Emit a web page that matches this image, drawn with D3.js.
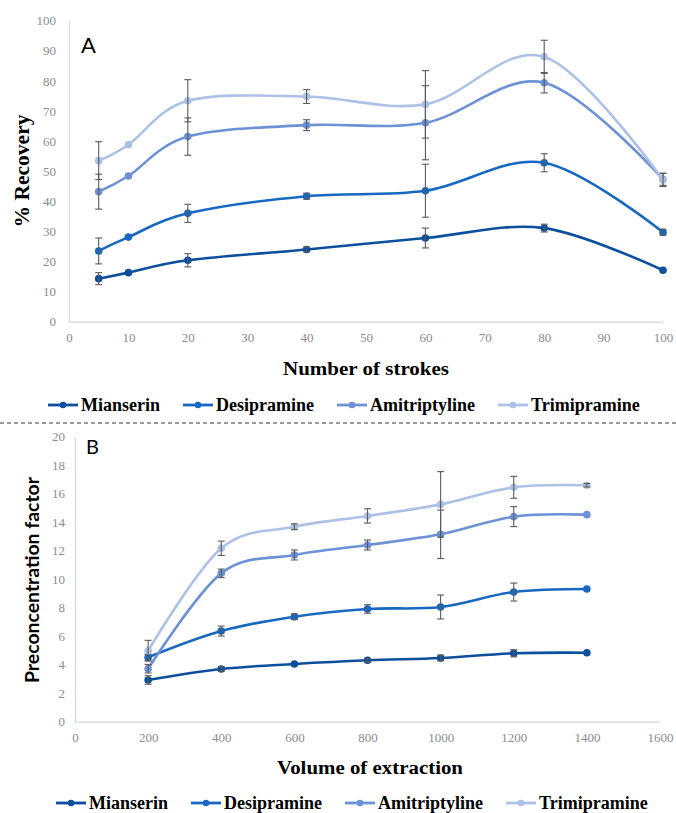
<!DOCTYPE html>
<html><head><meta charset="utf-8">
<script src="https://cdn.jsdelivr.net/npm/d3@7"></script>
<style>body{margin:0;background:#fff}svg{display:block}</style>
</head><body>
<svg id="c" width="676" height="813"></svg>
<script>
// ---------- data ----------
const seriesNames = ["Mianserin", "Desipramine", "Amitriptyline", "Trimipramine"];
const seriesColors = ["#0c4f9c", "#1768c0", "#6d91d6", "#adc0e6"];

// Panel A: % recovery vs number of strokes
const strokes = [5, 10, 20, 40, 60, 80, 100];
const recMianserin     = [14.3, 16.3, 20.4, 24.0, 27.8, 31.1, 17.1];
const recDesipramine   = [23.5, 28.1, 36.0, 41.7, 43.5, 52.8, 29.7];
const recAmitriptyline = [43.2, 48.4, 61.5, 65.3, 66.1, 79.4, 47.3];
const recTrimipramine  = [53.5, 58.8, 73.4, 74.8, 72.2, 88.0, 47.1];
const errMianserinA     = [2.0, 0, 2.2, 0.8, 3.3, 1.3, 0];
const errDesipramineA   = [4.3, 0, 3.0, 1.0, 8.8, 3.0, 1.0];
const errAmitriptylineA = [5.8, 0, 6.2, 1.8, 12.3, 3.4, 2.0];
const errTrimipramineA  = [6.3, 0, 7.0, 2.3, 11.2, 5.5, 2.2];
const ticksA_x = [0, 10, 20, 30, 40, 50, 60, 70, 80, 90, 100];
const ticksA_y = [0, 10, 20, 30, 40, 50, 60, 70, 80, 90, 100];

// Panel B: preconcentration factor vs volume of extraction
const volumes = [200, 400, 600, 800, 1000, 1200, 1400];
const pfMianserin     = [2.93, 3.70, 4.05, 4.31, 4.47, 4.80, 4.84];
const pfDesipramine   = [4.52, 6.36, 7.37, 7.91, 8.05, 9.10, 9.31];
const pfAmitriptyline = [3.72, 10.41, 11.70, 12.40, 13.15, 14.39, 14.53];
const pfTrimipramine  = [4.98, 12.17, 13.68, 14.44, 15.25, 16.45, 16.59];
const errMianserinB     = [0.3, 0.15, 0, 0.1, 0.2, 0.25, 0];
const errDesipramineB   = [0.2, 0.35, 0.2, 0.3, 0.84, 0.63, 0];
const errAmitriptylineB = [0.3, 0.3, 0.35, 0.35, 1.7, 0.7, 0];
const errTrimipramineB  = [0.73, 0.5, 0.2, 0.5, 2.3, 0.77, 0.12];
const ticksB_x = [0, 200, 400, 600, 800, 1000, 1200, 1400, 1600];
const ticksB_y = [0, 2, 4, 6, 8, 10, 12, 14, 16, 18, 20];

// ---------- drawing ----------
const svg = d3.select("#c");
const serif = "'Liberation Serif','Times New Roman',serif";
const sans = "Lato,'Open Sans',sans-serif";
const curve = d3.curveCardinal.tension(0);

function panel(cfg) {
  const x = d3.scaleLinear().domain(cfg.xDomain).range(cfg.xRange);
  const y = d3.scaleLinear().domain(cfg.yDomain).range(cfg.yRange);

  const ax = svg.append("g").attr("transform", `translate(0,${cfg.yRange[0]})`)
    .call(d3.axisBottom(x).tickValues(cfg.xTicks).tickSize(0).tickSizeOuter(0).tickPadding(cfg.xPad).tickFormat(d3.format("d")));
  const ay = svg.append("g").attr("transform", `translate(${cfg.xRange[0]},0)`)
    .call(d3.axisLeft(y).tickValues(cfg.yTicks).tickSize(0).tickSizeOuter(0).tickPadding(cfg.yPad).tickFormat(d3.format("d")));
  [ax, ay].forEach(a => {
    a.select(".domain").attr("stroke", "#d9d9d9").attr("stroke-width", 1.3);
    a.selectAll("text").attr("font-family", serif).attr("font-size", 13).attr("fill", "#8c8c8c");
  });

  cfg.series.forEach((vals, i) => {
    const pts = cfg.xs.map((xv, j) => ({x: xv, y: vals[j], e: cfg.errs[i][j]}));
    const g = svg.append("g");
    g.append("path").datum(pts)
      .attr("d", d3.line().x(d => x(d.x)).y(d => y(d.y)).curve(curve))
      .attr("fill", "none").attr("stroke", seriesColors[i]).attr("stroke-width", 2.6);
    g.selectAll("circle").data(pts).join("circle")
      .attr("cx", d => x(d.x)).attr("cy", d => y(d.y)).attr("r", 3.8)
      .attr("fill", seriesColors[i]);
    const eb = g.selectAll("g.eb").data(pts.filter(d => d.e > 0)).join("g").attr("class", "eb")
      .attr("stroke", "#5a5a5a").attr("stroke-width", 1.1);
    eb.append("line").attr("x1", d => x(d.x)).attr("x2", d => x(d.x))
      .attr("y1", d => y(d.y + d.e)).attr("y2", d => y(d.y - d.e));
    eb.append("line").attr("x1", d => x(d.x) - 3.5).attr("x2", d => x(d.x) + 3.5)
      .attr("y1", d => y(d.y + d.e)).attr("y2", d => y(d.y + d.e));
    eb.append("line").attr("x1", d => x(d.x) - 3.5).attr("x2", d => x(d.x) + 3.5)
      .attr("y1", d => y(d.y - d.e)).attr("y2", d => y(d.y - d.e));
  });

  // panel letter
  svg.append("text").attr("x", cfg.letterPos[0]).attr("y", cfg.letterPos[1])
    .attr("font-family", sans).attr("font-size", cfg.letterSize).attr("fill", "#000").text(cfg.letter);

  // x title
  svg.append("text").attr("x", cfg.xTitlePos[0]).attr("y", cfg.xTitlePos[1])
    .attr("text-anchor", "middle").attr("font-family", serif).attr("font-weight", "bold")
    .attr("font-size", 18.7).attr("textLength", cfg.xTitleLen).attr("lengthAdjust", "spacingAndGlyphs")
    .text(cfg.xTitle);

  // y title
  svg.append("text").attr("transform", `translate(${cfg.yTitlePos[0]},${cfg.yTitlePos[1]}) rotate(-90)`)
    .attr("text-anchor", "middle").attr("font-family", cfg.yTitleFont).attr("font-weight", "bold")
    .attr("font-size", cfg.yTitleSize).attr("textLength", cfg.yTitleLen).attr("lengthAdjust", "spacingAndGlyphs")
    .text(cfg.yTitle);

  // legend
  const lg = svg.append("g");
  let cx = cfg.legendX;
  seriesNames.forEach((n, i) => {
    lg.append("line").attr("x1", cx).attr("x2", cx + 30).attr("y1", cfg.legendY).attr("y2", cfg.legendY)
      .attr("stroke", seriesColors[i]).attr("stroke-width", 2.8);
    lg.append("circle").attr("cx", cx + 15).attr("cy", cfg.legendY).attr("r", 3.3).attr("fill", seriesColors[i]);
    const t = lg.append("text").attr("x", cx + 33).attr("y", cfg.legendY + 6)
      .attr("font-family", serif).attr("font-weight", "bold").attr("font-size", 18).text(n);
    cx += 33 + t.node().getComputedTextLength() + 23;
  });
}

panel({
  xs: strokes,
  series: [recMianserin, recDesipramine, recAmitriptyline, recTrimipramine],
  errs: [errMianserinA, errDesipramineA, errAmitriptylineA, errTrimipramineA],
  xDomain: [0, 100], xRange: [69, 663],
  yDomain: [0, 100], yRange: [321.7, 20.7],
  xTicks: ticksA_x, yTicks: ticksA_y, xPad: 11, yPad: 13,
  letter: "A", letterPos: [81, 53], letterSize: 22,
  xTitle: "Number of strokes", xTitlePos: [366, 375], xTitleLen: 166,
  yTitle: "% Recovery", yTitlePos: [29, 171], yTitleFont: serif, yTitleSize: 21, yTitleLen: 113,
  legendX: 48, legendY: 405
});

panel({
  xs: volumes,
  series: [pfMianserin, pfDesipramine, pfAmitriptyline, pfTrimipramine],
  errs: [errMianserinB, errDesipramineB, errAmitriptylineB, errTrimipramineB],
  xDomain: [0, 1600], xRange: [75, 660],
  yDomain: [0, 20], yRange: [721.7, 436.7],
  xTicks: ticksB_x, yTicks: ticksB_y, xPad: 11, yPad: 10,
  letter: "B", letterPos: [86, 454], letterSize: 20,
  xTitle: "Volume of extraction", xTitlePos: [370, 774], xTitleLen: 186,
  yTitle: "Preconcentration factor", yTitlePos: [39, 580], yTitleFont: sans, yTitleSize: 18, yTitleLen: 206,
  legendX: 56, legendY: 803
});

// dashed separator
svg.append("line").attr("x1", 0).attr("x2", 676).attr("y1", 423).attr("y2", 423)
  .attr("stroke", "#333").attr("stroke-width", 1).attr("stroke-dasharray", "4,3");
</script>
</body></html>
